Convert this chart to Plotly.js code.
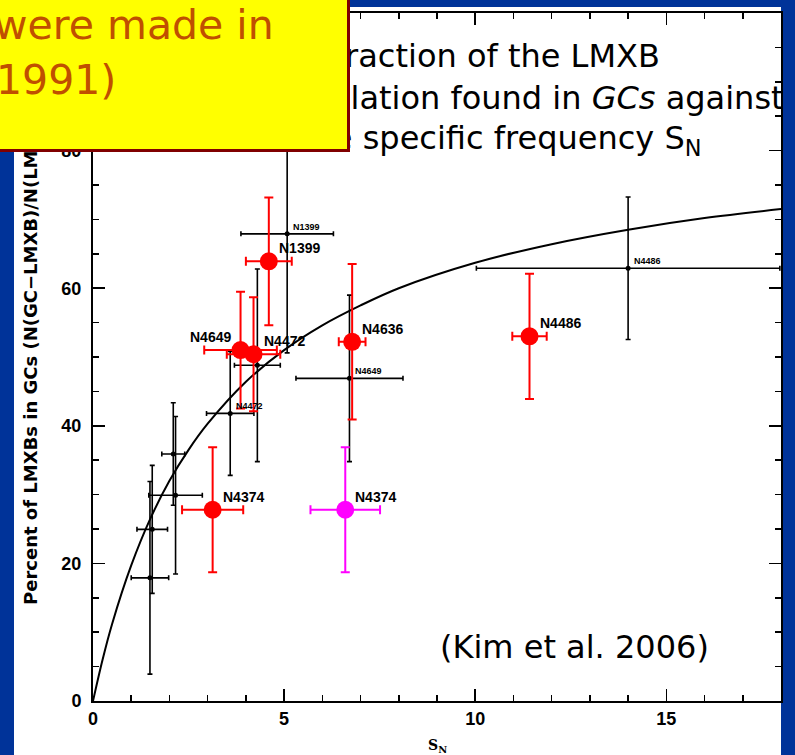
<!DOCTYPE html>
<html>
<head>
<meta charset="utf-8">
<script src="https://cdn.plot.ly/plotly-3.0.1.min.js"></script>
<style>html,body{margin:0;padding:0;background:#003399;}#chart{width:795px;height:755px;}</style>
</head>
<body>
<div id="chart"></div>
<script>
// ---- data ----
const curveX = [0, 0.25, 0.5, 1, 1.5, 2, 2.5, 3, 4, 5, 6, 7, 8, 10, 12, 14, 16, 18];
const curveY = [0, 6, 11.2, 19.7, 26.5, 32, 36.5, 40.3, 46.4, 51, 54.6, 57.5, 60, 63.7, 66.4, 68.5, 70.2, 71.5];

const blackNames = ['N1399', 'N4486', 'N4649', 'N4472', '', '', '', '', ''];
const blackX = [5.08, 14.0, 6.71, 3.59, 4.3, 2.1, 2.16, 1.55, 1.49];
const blackY = [67.9, 62.9, 46.9, 41.8, 48.8, 35.9, 29.9, 24.95, 17.9];
const blackXErr = [1.21, 3.97, 1.4, 0.62, 0.6, 0.3, 0.7, 0.4, 0.49];
const blackYErr = [17.3, 10.35, 12.1, 9, 14, 7.45, 11.45, 9.3, 14];

const redNames = ['N1399', 'N4649', 'N4472', 'N4636', 'N4486', 'N4374'];
const redX = [4.6, 3.86, 4.2, 6.78, 11.42, 3.13];
const redY = [63.9, 51.0, 50.4, 52.2, 53.0, 27.8];
const redXErr = [0.6, 0.95, 0.7, 0.35, 0.45, 0.8];
const redYErr = [9.3, 8.5, 8.3, 11.3, 9.1, 9.1];

const magNames = ['N4374'];
const magX = [6.6];
const magY = [27.8];
const magXErr = [0.91];
const magYErr = [9.1];

const xTickVals = [0, 5, 10, 15];
const yTickVals = [0, 20, 40, 60, 80];

// ---- layout helpers (pixel -> paper) ----
const M = {l: 93, r: 14, t: 13, b: 54};
const W = 795, H = 755;
const PW = W - M.l - M.r, PH = H - M.t - M.b;
const px = v => (v - M.l) / PW;
const py = v => (H - M.b - v) / PH;

const traces = [
  {x: curveX, y: curveY, mode: 'lines', line: {color: 'black', width: 2, shape: 'spline'}, hoverinfo: 'skip'},
  {x: blackX, y: blackY, mode: 'markers', marker: {color: 'black', size: 5},
   error_x: {type: 'data', array: blackXErr, color: 'black', thickness: 1.6, width: 2.5},
   error_y: {type: 'data', array: blackYErr, color: 'black', thickness: 1.6, width: 2.5}},
  {x: redX, y: redY, mode: 'markers', marker: {color: '#ff0000', size: 18},
   error_x: {type: 'data', array: redXErr, color: '#ff0000', thickness: 2, width: 4.5},
   error_y: {type: 'data', array: redYErr, color: '#ff0000', thickness: 2, width: 4.5}},
  {x: magX, y: magY, mode: 'markers', marker: {color: '#ff00ff', size: 18},
   error_x: {type: 'data', array: magXErr, color: '#ff00ff', thickness: 2, width: 4.5},
   error_y: {type: 'data', array: magYErr, color: '#ff00ff', thickness: 2, width: 4.5}}
];

const annotations = [];
const bigFont = {family: 'Liberation Sans', size: 14, color: 'black', weight: 'bold'};
const smallFont = {family: 'Liberation Sans', size: 9, color: 'black', weight: 'bold'};
redNames.forEach((n, i) => {
  const left = n !== 'N4649';
  annotations.push({x: redX[i], y: redY[i], xref: 'x', yref: 'y', text: n, showarrow: false,
    xanchor: left ? 'left' : 'right', yanchor: 'middle', xshift: left ? 8 : -8, yshift: 13, font: bigFont});
});
magNames.forEach((n, i) => {
  annotations.push({x: magX[i], y: magY[i], xref: 'x', yref: 'y', text: n, showarrow: false,
    xanchor: 'left', yanchor: 'middle', xshift: 8, yshift: 13, font: bigFont});
});
blackNames.forEach((n, i) => {
  if (!n) return;
  annotations.push({x: blackX[i], y: blackY[i], xref: 'x', yref: 'y', text: n, showarrow: false,
    xanchor: 'left', yanchor: 'middle', xshift: 4, yshift: 7, font: smallFont});
});

// axis titles
annotations.push({xref: 'paper', yref: 'paper', x: px(30), y: py(356), textangle: -90, showarrow: false,
  text: 'Percent of LMXBs in GCs (N(GC\u2212LMXB)/N(LMXB))', xanchor: 'center', yanchor: 'middle',
  font: {family: 'DejaVu Sans', size: 18, color: 'black', weight: 'bold'}});
annotations.push({xref: 'paper', yref: 'paper', x: px(437), y: py(746), showarrow: false,
  text: 'S<sub>N</sub>', xanchor: 'center', yanchor: 'middle',
  font: {family: 'DejaVu Serif', size: 14, color: 'black', weight: 'bold'}});

// slide text
const slideFont = {family: 'DejaVu Sans', size: 32, color: 'black'};
annotations.push({xref: 'paper', yref: 'paper', x: px(662), y: py(56), xanchor: 'right', yanchor: 'middle',
  showarrow: false, text: 'Fraction of the LMXB', font: slideFont});
annotations.push({xref: 'paper', yref: 'paper', x: px(786), y: py(98), xanchor: 'right', yanchor: 'middle',
  showarrow: false, text: 'population found in <i>GCs</i> against', font: slideFont});
annotations.push({xref: 'paper', yref: 'paper', x: px(704), y: py(140), xanchor: 'right', yanchor: 'middle',
  showarrow: false, text: 'the specific frequency S<sub>N</sub>', font: slideFont});
annotations.push({xref: 'paper', yref: 'paper', x: px(574), y: py(647), xanchor: 'center', yanchor: 'middle',
  showarrow: false, text: '(Kim et al. 2006)', font: {family: 'DejaVu Sans', size: 32, color: 'black'}});

// yellow box on top (box carries first line of its text)
const yelFont = {family: 'DejaVu Sans', size: 41, color: '#c04f00'};
annotations.push({xref: 'paper', yref: 'paper', x: px(-25), y: py(-18), xanchor: 'left', yanchor: 'top',
  showarrow: false, text: 'were made in', align: 'left', valign: 'top',
  width: 337, height: 132, bgcolor: '#ffff00', bordercolor: '#800000',
  borderwidth: 3, borderpad: 16, font: yelFont});
annotations.push({xref: 'paper', yref: 'paper', x: px(-6), y: py(80), xanchor: 'left', yanchor: 'middle',
  showarrow: false, text: '1991)', font: yelFont});

const axisCommon = {
  showline: true, linecolor: 'black', linewidth: 2, mirror: 'ticks',
  ticks: 'inside', ticklen: 12, tickwidth: 1.6, tickcolor: 'black',
  showgrid: false, zeroline: false,
  tickfont: {family: 'Liberation Sans', size: 18, color: 'black', weight: 'bold'}
};

const layout = {
  width: W, height: H, margin: M,
  paper_bgcolor: '#003399', plot_bgcolor: 'rgba(0,0,0,0)',
  showlegend: false,
  xaxis: Object.assign({}, axisCommon, {range: [0, 18], tickmode: 'array', tickvals: xTickVals,
    minor: {dtick: 1, ticks: 'inside', ticklen: 6, tickwidth: 1.6, tickcolor: 'black'}}),
  yaxis: Object.assign({}, axisCommon, {range: [0, 100], tickmode: 'array', tickvals: yTickVals,
    ticklabelstandoff: 6,
    minor: {dtick: 5, ticks: 'inside', ticklen: 6, tickwidth: 1.6, tickcolor: 'black'}}),
  shapes: [
    {type: 'rect', xref: 'paper', yref: 'paper', x0: px(14), x1: px(781), y0: py(755), y1: py(7),
     fillcolor: 'white', line: {width: 0}, layer: 'below'}
  ],
  annotations: annotations
};

Plotly.newPlot('chart', traces, layout, {staticPlot: true, displayModeBar: false});
</script>
</body>
</html>
